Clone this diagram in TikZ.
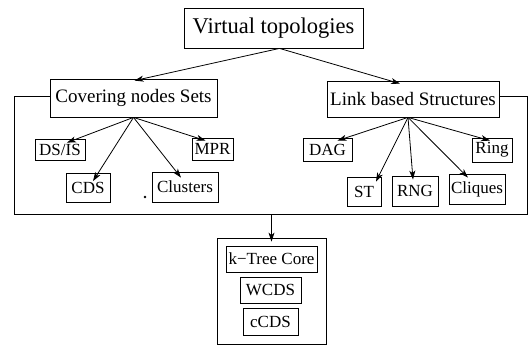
\documentclass[tikz,border=0pt]{standalone}
\usepackage{fontspec}
\setmainfont{Liberation Serif}
\usetikzlibrary{arrows.meta}
\begin{document}
\begin{tikzpicture}[x=1pt,y=-1pt,
  line width=0.8pt,
  box/.style={draw, inner sep=0pt, line width=0.8pt, anchor=center},
  big/.style={font=\fontsize{22.5}{24}\selectfont},
  mid/.style={font=\fontsize{19}{21}\selectfont},
  sml/.style={font=\fontsize{17}{19}\selectfont},
  arr/.style={-{Stealth[length=9pt,width=6pt,inset=2.5pt]}, line width=0.8pt}
]
\useasboundingbox (0,0) rectangle (530,345);
\fill[white] (0,0) rectangle (530,345);

\node[box,big,minimum width=179pt,minimum height=40pt] (top) at (273.5,28) {Virtual topologies};
\node[box,mid,minimum width=167pt,minimum height=38pt] (cov) at (133.5,98) {Covering nodes Sets};
\node[box,mid,minimum width=172pt,minimum height=36pt] (link) at (413,99) {Link based Structures};

\node[box,sml,minimum width=50pt,minimum height=21pt] (ds) at (60,149.5) {DS/IS};
\node[box,sml,minimum width=41pt,minimum height=22pt] (mpr) at (212.5,149) {MPR};
\node[box,sml,minimum width=44pt,minimum height=29pt] (cds) at (88,188) {CDS};
\node[box,sml,minimum width=66pt,minimum height=30pt] (clu) at (185,187) {Clusters};
\node[box,sml,minimum width=49pt,minimum height=23pt] (dag) at (327.5,149.5) {DAG};
\node[box,sml,minimum width=40pt,minimum height=24pt] (ring) at (492,150) {Ring};
\node[box,sml,minimum width=34pt,minimum height=29pt] (st) at (364,191.5) {ST};
\node[box,sml,minimum width=46pt,minimum height=30pt] (rng) at (415,191) {RNG};
\node[box,sml,minimum width=56pt,minimum height=30pt] (cli) at (477,189) {Cliques};

\node[box,minimum width=109pt,minimum height=106pt] (bot) at (271.5,291) {};
\node[box,sml,minimum width=91pt,minimum height=26pt] (kt) at (271.5,259) {k−Tree Core};
\node[box,sml,minimum width=61pt,minimum height=26pt] (wc) at (270.5,290) {WCDS};
\node[box,sml,minimum width=55pt,minimum height=27pt] (cc) at (270.5,321.5) {cCDS};

\fill (145,197) circle (1.4pt);

% frame
\coordinate (fl) at (14,96);
\coordinate (fr) at (527,96);
\coordinate (fb) at (271.5,214);
\draw (cov.west |- fl) -- (fl) -- (14,214) -- (527,214) -- (fr) -- (link.east |- fr);

% arrows
\draw[arr] ([xshift=6pt]top.south) -- ([xshift=1pt,yshift=-2pt]cov.north);
\draw[arr] ([xshift=6pt]top.south) -- ([xshift=-13pt,yshift=-3pt]link.north);

\draw[arr] (cov.south) -- ([xshift=7pt,yshift=-4pt]ds.north);
\draw[arr] (cov.south) -- ([xshift=5pt,yshift=-8pt]cds.north);
\draw[arr] (cov.south) -- ([xshift=-4pt,yshift=-6pt]clu.north);
\draw[arr] (cov.south) -- ([xshift=-7pt,yshift=-3pt]mpr.north);

\draw[arr] ([xshift=-5pt]link.south) -- ([xshift=10pt,yshift=-3pt]dag.north);
\draw[arr] ([xshift=-5pt]link.south) -- ([xshift=12pt,yshift=-5pt]st.north);
\draw[arr] ([xshift=-5pt]link.south) -- ([xshift=-2pt,yshift=-4pt]rng.north);
\draw[arr] ([xshift=-5pt]link.south) -- ([xshift=-9pt,yshift=-4pt]cli.north);
\draw[arr] ([xshift=-5pt]link.south) -- ([xshift=-2pt,yshift=-3pt]ring.north);

\draw[arr] (fb) -- ([yshift=-4pt]bot.north);
\end{tikzpicture}
\end{document}
